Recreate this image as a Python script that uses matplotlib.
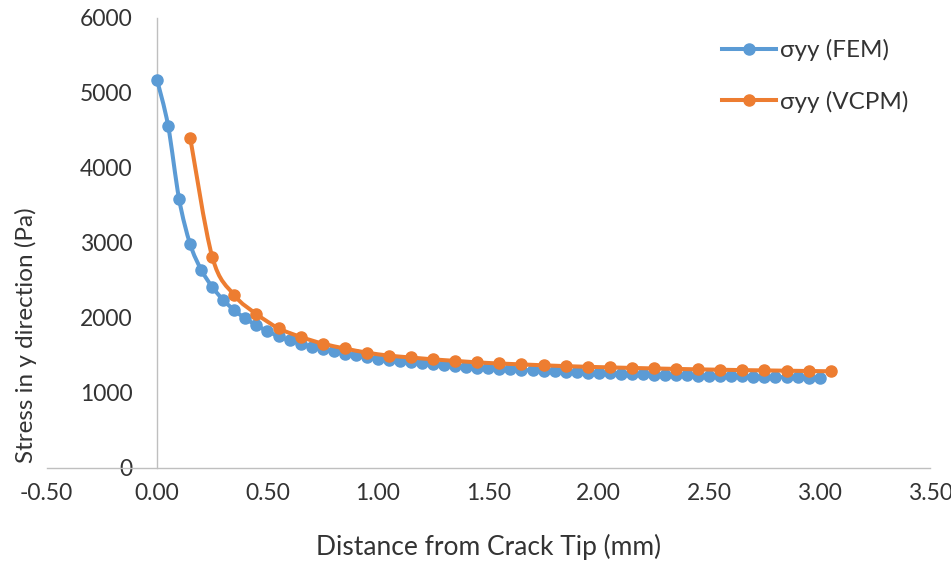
import numpy as np
import matplotlib
matplotlib.use("Agg")
from matplotlib import pyplot as plt
from matplotlib.path import Path
from matplotlib.patches import PathPatch

# sigma_yy from FEM, every 0.05 mm
fem_x = [round(0.05 * i, 2) for i in range(61)]
fem_y = [5170, 4560, 3580, 2980, 2640, 2410, 2235, 2100, 1990, 1900,
         1820, 1755, 1700, 1655, 1615, 1580, 1550, 1522, 1497, 1475,
         1455, 1437, 1420, 1405, 1391, 1378, 1366, 1355, 1345, 1336,
         1327, 1319, 1311, 1304, 1297, 1291, 1285, 1279, 1274, 1269,
         1264, 1259, 1255, 1251, 1247, 1243, 1239, 1236, 1232, 1229,
         1226, 1223, 1220, 1217, 1215, 1212, 1209, 1207, 1205, 1202,
         1200]

# sigma_yy from VCPM, every 0.1 mm starting at 0.15
vcpm_x = [round(0.15 + 0.1 * i, 2) for i in range(30)]
vcpm_y = [4400, 2810, 2300, 2050, 1860, 1745, 1655, 1590, 1535, 1495,
          1470, 1445, 1425, 1405, 1390, 1378, 1366, 1355, 1346, 1338,
          1331, 1324, 1318, 1312, 1307, 1302, 1298, 1294, 1290, 1286]

xticks = [-0.5, 0, 0.5, 1.0, 1.5, 2.0, 2.5, 3.0, 3.5]
yticks = [0, 1000, 2000, 3000, 4000, 5000, 6000]

plt.rcParams['font.family'] = ['Lato', 'DejaVu Sans']
text_col = '#333333'
axis_col = '#BFBFBF'
blue = '#5B9BD5'
orange = '#ED7D31'


def smooth_path(x, y):
    # Excel-like smoothed line: cubic bezier through the data points
    p = np.column_stack([x, y]).astype(float)
    verts = [p[0]]
    codes = [Path.MOVETO]
    n = len(p)
    for i in range(n - 1):
        p0 = p[i - 1] if i > 0 else p[i]
        p3 = p[i + 2] if i + 2 < n else p[i + 1]
        c1 = p[i] + (p[i + 1] - p0) / 6.0
        c2 = p[i + 1] - (p3 - p[i]) / 6.0
        verts += [c1, c2, p[i + 1]]
        codes += [Path.CURVE4] * 3
    return Path(verts, codes)


fig = plt.figure(figsize=(9.51, 5.65), dpi=100)
ax = fig.add_axes([0.049, 0.172, 0.929, 0.797])

for xs, ys, col, lab, z in [(fem_x, fem_y, blue, 'σyy (FEM)', 3),
                            (vcpm_x, vcpm_y, orange, 'σyy (VCPM)', 4)]:
    ax.add_patch(PathPatch(smooth_path(xs, ys), fill=False, edgecolor=col,
                           lw=2.9, capstyle='round', joinstyle='round',
                           zorder=z))
    ax.plot(xs, ys, color=col, lw=2.9, ls='none', marker='o', ms=8,
            zorder=z)
    ax.plot([], [], color=col, lw=2.9, marker='o', ms=8, label=lab)

ax.set_xlim(-0.5, 3.5)
ax.set_ylim(0, 6000)
ax.set_xticks(xticks)
ax.set_xticklabels(['%.2f' % t for t in xticks])
ax.set_yticks(yticks)

for s in ['top', 'right']:
    ax.spines[s].set_visible(False)
ax.spines['left'].set_position(('data', 0))
for s in ['left', 'bottom']:
    ax.spines[s].set_color(axis_col)
    ax.spines[s].set_linewidth(1)

ax.tick_params(axis='both', length=0, labelsize=16.5, colors=text_col)
ax.tick_params(axis='y', pad=17.5)
ax.tick_params(axis='x', pad=11)

ax.set_xlabel('Distance from Crack Tip (mm)', fontsize=19, color=text_col)
ax.xaxis.set_label_coords(0.5, -0.147)
ax.set_ylabel('Stress in y direction (Pa)', fontsize=17.5, color=text_col)
ax.yaxis.set_label_coords(-0.011, 0.295)

ax.legend(loc='upper right', bbox_to_anchor=(0.986, 0.973), frameon=False,
          fontsize=17.5, labelspacing=1.2, handlelength=2.2,
          handletextpad=0.15, borderaxespad=0, labelcolor=text_col)

fig.savefig('out.png', dpi=100)
